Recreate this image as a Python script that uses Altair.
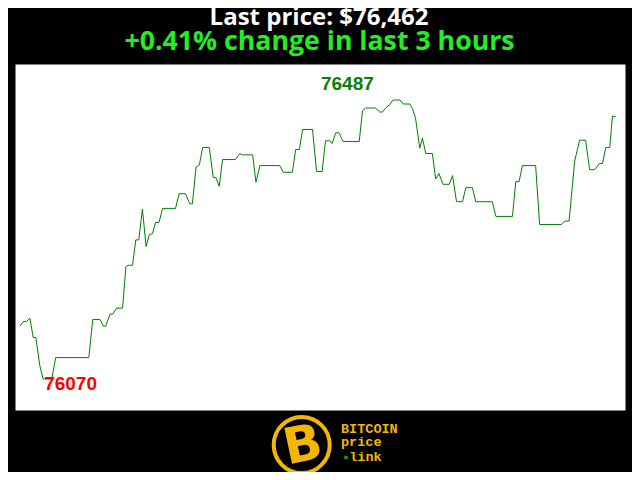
import altair as alt
import pandas as pd

# minutes since start of the 3-hour window
minutes = [0, 1.0, 2.0, 3.0, 4.0, 4.8, 6.0, 7.0, 9.6, 10.8,
           20.8, 22.0, 24.2, 25.2, 25.9, 27.2, 28.0, 29.2, 31.0, 32.0,
           32.7, 34.0, 35.0, 35.9, 37.0, 38.1, 39.1, 40.0, 41.0, 42.0,
           43.1, 47.0, 48.1, 50.0, 51.3, 52.1, 53.2, 54.2, 55.2, 57.2,
           58.4, 59.2, 60.2, 61.2, 65.1, 66.4, 67.2, 70.3, 71.3, 72.5,
           78.5, 79.5, 82.3, 83.3, 84.4, 85.4, 88.4, 89.6, 91.3, 92.3,
           93.6, 94.3, 95.4, 96.4, 97.6, 102.5, 103.5, 104.4, 107.4, 108.7,
           109.5, 110.5, 111.7, 112.7, 114.8, 115.8, 117.8, 118.6, 119.5, 120.8,
           121.6, 122.6, 124.6, 125.6, 126.6, 127.8, 129.7, 130.7, 131.9, 133.7,
           134.7, 136.7, 137.7, 142.7, 143.8, 148.8, 149.8, 150.8, 151.8, 155.8,
           157.0, 163.6, 164.6, 165.9, 167.6, 169.1, 170.9, 172.1, 173.7, 175.0,
           176.0, 177.0, 178.2, 179.0, 180.0]
prices = [76149, 76156, 76156, 76161, 76132, 76132, 76090, 76070, 76070, 76102,
          76102, 76159, 76159, 76149, 76149, 76167, 76167, 76176, 76176, 76238,
          76240, 76240, 76278, 76278, 76324, 76268, 76286, 76287, 76304, 76304,
          76325, 76325, 76347, 76347, 76332, 76332, 76387, 76390, 76416, 76416,
          76371, 76371, 76358, 76398, 76398, 76407, 76405, 76405, 76364, 76389,
          76389, 76379, 76379, 76413, 76413, 76443, 76443, 76380, 76380, 76426,
          76426, 76422, 76438, 76438, 76425, 76425, 76471, 76475, 76475, 76469,
          76469, 76475, 76480, 76487, 76487, 76481, 76481, 76474, 76460, 76415,
          76430, 76407, 76407, 76369, 76377, 76361, 76361, 76374, 76335, 76335,
          76356, 76356, 76335, 76335, 76313, 76313, 76365, 76365, 76389, 76389,
          76301, 76301, 76306, 76306, 76396, 76427, 76427, 76383, 76383, 76392,
          76392, 76416, 76416, 76463, 76462]

title_lines = ["Last price: $76,462", "+0.41% change in last 3 hours"]
logo_words = ["BITCOIN", "price"]
logo_last = ["link"]

df = pd.DataFrame({"t": minutes, "p": prices})
imax = df["p"].idxmax()
imin = df["p"].idxmin()
df_max = df.loc[[imax]].assign(lbl=str(df["p"].max()))
df_min = df.loc[[imin]].assign(lbl=str(df["p"].min()))

xs = alt.Scale(domain=[-1.5, 182.8], nice=False, zero=False)
ys = alt.Scale(domain=[76023.7, 76540.8], nice=False, zero=False)

line = alt.Chart(df).mark_line(color="green", strokeWidth=1, interpolate="linear").encode(
    x=alt.X("t:Q", scale=xs, axis=None),
    y=alt.Y("p:Q", scale=ys, axis=None),
)

max_lbl = alt.Chart(df_max).mark_text(
    color="#068006", font="Liberation Sans", fontWeight="bold", fontSize=19,
    align="left", baseline="alphabetic", dx=-72, dy=-10,
).encode(x=alt.X("t:Q", scale=xs, axis=None), y=alt.Y("p:Q", scale=ys, axis=None), text="lbl:N")

min_lbl = alt.Chart(df_min).mark_text(
    color="#ff0000", font="Liberation Sans", fontWeight="bold", fontSize=19,
    align="left", baseline="alphabetic", dx=1, dy=11,
).encode(x=alt.X("t:Q", scale=xs, axis=None), y=alt.Y("p:Q", scale=ys, axis=None), text="lbl:N")

t1 = alt.Chart(pd.DataFrame({"s": [title_lines[0]]})).mark_text(
    color="white", font="Open Sans", fontWeight="bold", fontSize=24,
    align="center", baseline="alphabetic",
).encode(text="s:N", x=alt.value(304), y=alt.value(-39))

t2 = alt.Chart(pd.DataFrame({"s": [title_lines[1]]})).mark_text(
    color="#22ee22", font="Open Sans", fontWeight="bold", fontSize=26.7,
    align="center", baseline="alphabetic",
).encode(text="s:N", x=alt.value(304.5), y=alt.value(-14))

gold = "#f2b705"
circle = alt.Chart(pd.DataFrame({"k": [1]})).mark_point(
    shape="circle", filled=False, stroke=gold, strokeWidth=4, size=3136, opacity=1,
).encode(x=alt.value(286.7), y=alt.value(381))

bsym = alt.Chart(pd.DataFrame({"s": ["B"]})).mark_text(
    color=gold, font="DejaVu Sans", fontWeight="bold", fontSize=50,
    align="center", baseline="middle", angle=348,
).encode(text="s:N", x=alt.value(288), y=alt.value(382))

words_df = pd.DataFrame({"s": logo_words, "row": [0, 1]})
words = alt.Chart(words_df).mark_text(
    color=gold, font="Liberation Mono", fontWeight="bold", fontSize=13.5,
    align="left", baseline="alphabetic",
).encode(
    text="s:N",
    x=alt.value(326),
    y=alt.Y("row:Q", scale=alt.Scale(domain=[0, 1], range=[368.7, 382.2], nice=False, zero=False), axis=None),
)

link = alt.Chart(pd.DataFrame({"s": logo_last})).mark_text(
    color=gold, font="Liberation Mono", fontWeight="bold", fontSize=13.5,
    align="left", baseline="alphabetic",
).encode(text="s:N", x=alt.value(334.2), y=alt.value(396.7))

dot = alt.Chart(pd.DataFrame({"k": [1]})).mark_point(
    shape="square", filled=True, color="#19a019", size=12, opacity=1,
).encode(x=alt.value(331), y=alt.value(393.5))

chart = alt.layer(line, max_lbl, min_lbl, t1, t2, circle, bsym, words, link, dot).properties(
    width=610, height=346,
    background="black",
    padding={"left": 7, "right": 7, "top": 56, "bottom": 62},
    autosize=alt.AutoSizeParams(type="none"),
).resolve_scale(y="independent").configure_view(fill="white", stroke="transparent")

chart.save("out.html", embed_options={"renderer": "svg", "actions": False})
